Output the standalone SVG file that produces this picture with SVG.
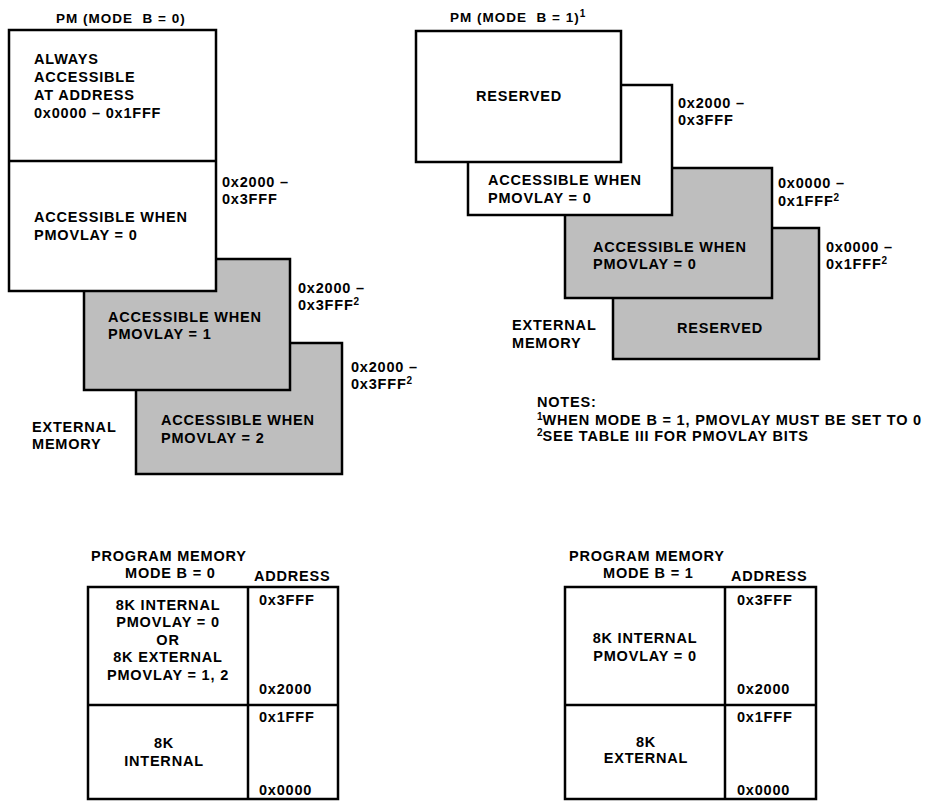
<svg xmlns="http://www.w3.org/2000/svg" width="929" height="802" viewBox="0 0 929 802">
<style>
text{font-family:"Liberation Sans",Arial,Helvetica,sans-serif;font-weight:bold;font-size:14.5px;letter-spacing:0.8px;fill:#000}
.t{font-size:13.5px;letter-spacing:1px}
.c{text-anchor:middle}
.s{font-size:10px;letter-spacing:0}
.w{fill:#fff;stroke:#000;stroke-width:2.5}
.g{fill:#bebebe;stroke:#000;stroke-width:2.5}
.ln{stroke:#000;stroke-width:2.5;fill:none}
</style>
<rect width="929" height="802" fill="#fff"/>

<!-- Top-left: PM (MODE B = 0) -->
<text class="t" x="56" y="23" xml:space="preserve">PM (MODE  B = 0)</text>
<g id="pm0-ext2">
<rect class="g" x="136" y="343" width="206" height="131"/>
<text x="161" y="425">ACCESSIBLE WHEN</text>
<text x="161" y="443">PMOVLAY = 2</text>
<text x="351" y="372">0x2000 –</text>
<text x="351" y="389">0x3FFF<tspan class="s" dy="-5">2</tspan></text>
</g>
<g id="pm0-ext1">
<rect class="g" x="84" y="259" width="206" height="131"/>
<text x="108" y="322">ACCESSIBLE WHEN</text>
<text x="108" y="339">PMOVLAY = 1</text>
<text x="298" y="293">0x2000 –</text>
<text x="298" y="310">0x3FFF<tspan class="s" dy="-5">2</tspan></text>
</g>
<g id="pm0-int">
<rect class="w" x="9" y="30" width="207" height="261"/>
<line class="ln" x1="9" y1="161" x2="216" y2="161"/>
<text x="34" y="64">ALWAYS</text>
<text x="34" y="82">ACCESSIBLE</text>
<text x="34" y="100">AT ADDRESS</text>
<text x="34" y="118">0x0000 – 0x1FFF</text>
<text x="34" y="222">ACCESSIBLE WHEN</text>
<text x="34" y="240">PMOVLAY = 0</text>
<text x="222" y="187">0x2000 –</text>
<text x="222" y="204">0x3FFF</text>
</g>
<g id="pm0-extlabel">
<text x="32" y="432">EXTERNAL</text>
<text x="32" y="449">MEMORY</text>
</g>

<!-- Top-right: PM (MODE B = 1) -->
<text class="t" x="450" y="22" xml:space="preserve">PM (MODE  B = 1)<tspan class="s" dy="-5">1</tspan></text>
<g id="pm1-ext-res">
<rect class="g" x="613" y="228" width="206" height="131"/>
<text x="677" y="333">RESERVED</text>
<text x="826" y="252">0x0000 –</text>
<text x="826" y="269">0x1FFF<tspan class="s" dy="-5">2</tspan></text>
</g>
<g id="pm1-ext0">
<rect class="g" x="565" y="168" width="207" height="130"/>
<text x="593" y="252">ACCESSIBLE WHEN</text>
<text x="593" y="269">PMOVLAY = 0</text>
<text x="778" y="188">0x0000 –</text>
<text x="778" y="206">0x1FFF<tspan class="s" dy="-5">2</tspan></text>
</g>
<g id="pm1-int0">
<rect class="w" x="468" y="85" width="204" height="130"/>
<text x="488" y="185">ACCESSIBLE WHEN</text>
<text x="488" y="203">PMOVLAY = 0</text>
<text x="678" y="108">0x2000 –</text>
<text x="678" y="125">0x3FFF</text>
</g>
<g id="pm1-res">
<rect class="w" x="416" y="31" width="205" height="131"/>
<text x="476" y="101">RESERVED</text>
</g>
<g id="pm1-extlabel">
<text x="512" y="330">EXTERNAL</text>
<text x="512" y="348">MEMORY</text>
</g>
<g id="notes">
<text x="537" y="407">NOTES:</text>
<text x="537" y="425"><tspan class="s" dy="-5">1</tspan><tspan dy="5">WHEN MODE B = 1, PMOVLAY MUST BE SET TO 0</tspan></text>
<text x="537" y="441"><tspan class="s" dy="-5">2</tspan><tspan dy="5">SEE TABLE III FOR PMOVLAY BITS</tspan></text>
</g>

<!-- Bottom-left table -->
<g id="table0">
<text x="91" y="561">PROGRAM MEMORY</text>
<text x="125" y="578">MODE B = 0</text>
<text x="254" y="581">ADDRESS</text>
<rect class="ln" x="88" y="587" width="250" height="212"/>
<line class="ln" x1="248" y1="587" x2="248" y2="799"/>
<line class="ln" x1="88" y1="705" x2="338" y2="705"/>
<text class="c" x="168" y="610">8K INTERNAL</text>
<text class="c" x="168" y="627">PMOVLAY = 0</text>
<text class="c" x="168" y="645">OR</text>
<text class="c" x="168" y="662">8K EXTERNAL</text>
<text class="c" x="168" y="680">PMOVLAY = 1, 2</text>
<text class="c" x="164" y="748">8K</text>
<text class="c" x="164" y="766">INTERNAL</text>
<text x="259" y="605">0x3FFF</text>
<text x="259" y="694">0x2000</text>
<text x="259" y="722">0x1FFF</text>
<text x="259" y="795">0x0000</text>
</g>

<!-- Bottom-right table -->
<g id="table1">
<text x="569" y="561">PROGRAM MEMORY</text>
<text x="603" y="578">MODE B = 1</text>
<text x="731" y="581">ADDRESS</text>
<rect class="ln" x="565" y="587" width="251" height="212"/>
<line class="ln" x1="725" y1="587" x2="725" y2="799"/>
<line class="ln" x1="565" y1="705" x2="816" y2="705"/>
<text class="c" x="645" y="643">8K INTERNAL</text>
<text class="c" x="645" y="661">PMOVLAY = 0</text>
<text class="c" x="646" y="747">8K</text>
<text class="c" x="646" y="763">EXTERNAL</text>
<text x="737" y="605">0x3FFF</text>
<text x="737" y="694">0x2000</text>
<text x="737" y="722">0x1FFF</text>
<text x="737" y="795">0x0000</text>
</g>
</svg>
